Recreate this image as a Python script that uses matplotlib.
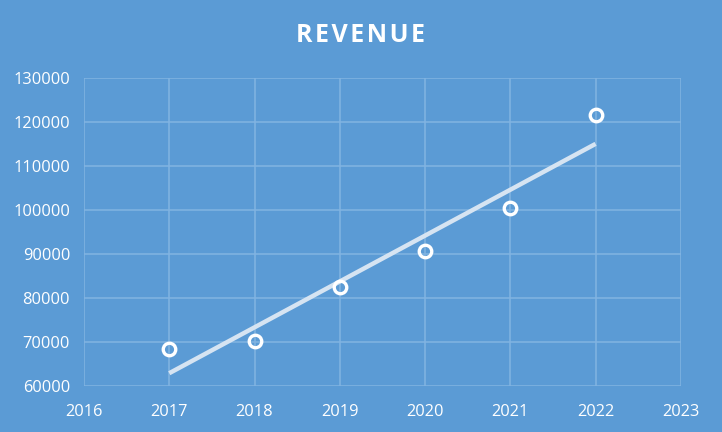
import numpy as np
import matplotlib.pyplot as plt

years = [2017, 2018, 2019, 2020, 2021, 2022]
revenue = [68400, 70200, 82500, 90700, 100500, 121600]

bg = '#5B9BD5'
grid_c = '#82B4E2'

fig = plt.figure(figsize=(7.22, 4.32), dpi=100, facecolor=bg)
ax = fig.add_axes([0.1163, 0.1065, 0.8267, 0.7125])
ax.set_facecolor(bg)

# linear trendline
k, b = np.polyfit(years, revenue, 1)
tx = np.array([years[0], years[-1]])
ax.plot(tx, k * tx + b, color='#D6E4F2', lw=3.2, solid_capstyle='butt', zorder=3)

ax.plot(years, revenue, 'o', ms=9, mfc='none', mec='white', mew=2.4, zorder=4)

ax.set_xlim(2016, 2023)
ax.set_ylim(60000, 130000)
ax.set_xticks(range(2016, 2024))
ax.set_yticks(range(60000, 130001, 10000))
ax.grid(True, color=grid_c, lw=1.1)
ax.set_axisbelow(True)
for s in ax.spines.values():
    s.set_visible(False)
ax.tick_params(length=0, colors='white', labelsize=11.8)
ax.tick_params(axis='y', pad=10)
ax.tick_params(axis='x', pad=13)
for lab in ax.get_xticklabels() + ax.get_yticklabels():
    lab.set_fontfamily('Open Sans')

title = '\u200a'.join('REVENUE')
fig.text(0.5, 0.917, title, ha='center', va='center', color='white',
         fontsize=18, fontweight='bold', family=['Open Sans', 'DejaVu Sans'])

fig.savefig('out.png', dpi=100, facecolor=bg)
